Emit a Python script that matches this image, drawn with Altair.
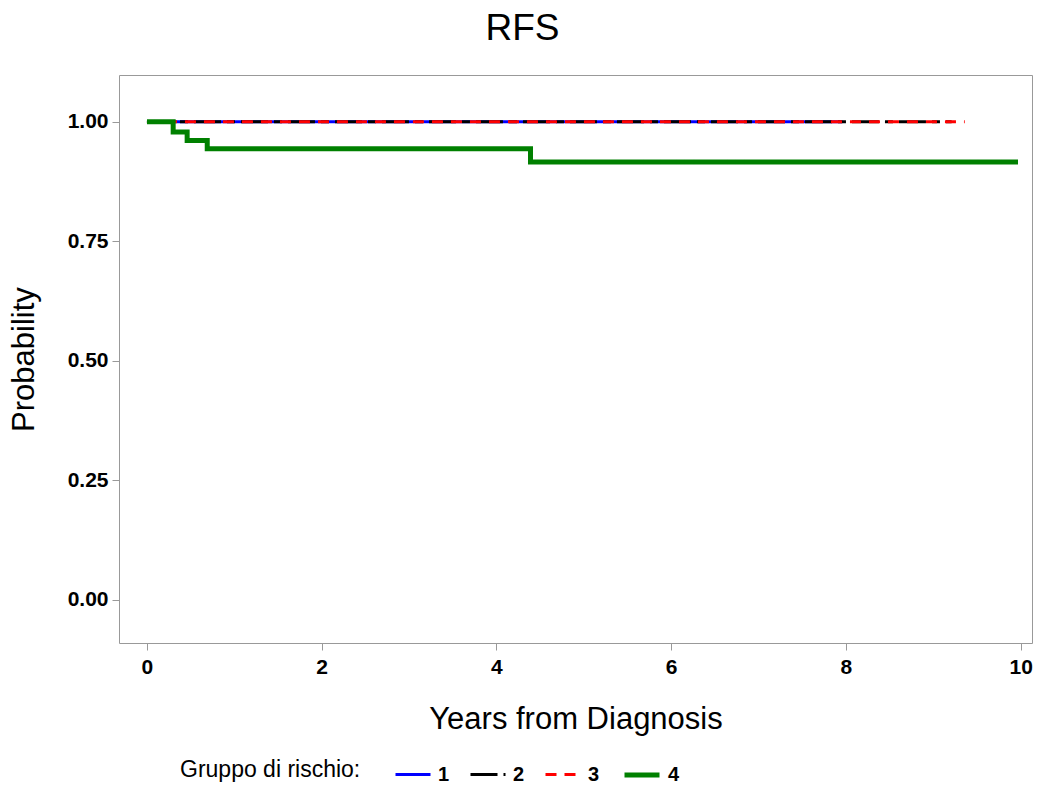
import altair as alt
import pandas as pd

# Kaplan-Meier step curves
g1_time = [0.0, 7.96]
g1_surv = [1.0, 1.0]
g2_time = [0.0, 9.21]
g2_surv = [1.0, 1.0]
g3_time = [0.0, 9.36]
g3_surv = [1.0, 1.0]
g4_time = [0.0, 0.30, 0.46, 0.69, 4.39, 9.97]
g4_surv = [1.0, 0.979, 0.961, 0.944, 0.916, 0.916]

groups = ["1", "2", "3", "4"]
colors = ["#0000FF", "#000000", "#FF0000", "#008000"]
dashes = [[1, 0], [27, 6, 8, 6], [11, 8], [1, 0]]
widths = [3, 3, 3, 5]

x_ticks = [0, 2, 4, 6, 8, 10]
y_ticks = [0.0, 0.25, 0.5, 0.75, 1.0]

rows = []
for g, ts, ss in zip(groups, [g1_time, g2_time, g3_time, g4_time],
                     [g1_surv, g2_surv, g3_surv, g4_surv]):
    for i, (t, s) in enumerate(zip(ts, ss)):
        rows.append({"group": g, "time": t, "surv": s, "ord": i})
df = pd.DataFrame(rows)

FONT = "Liberation Sans"

chart = alt.Chart(df).mark_line(interpolate="step-after", strokeCap="butt").encode(
    x=alt.X("time:Q",
            scale=alt.Scale(domain=[-0.32, 10.13], nice=False, zero=False),
            axis=alt.Axis(values=x_ticks, title="Years from Diagnosis", format="d",
                          grid=False, domain=False, tickColor="#999999", tickSize=7,
                          labelFontSize=21, labelFontWeight="bold", labelColor="#000000",
                          labelPadding=6, labelFont=FONT,
                          titleFont=FONT, titleFontSize=31, titleFontWeight="normal",
                          titleColor="#000000", titleBaseline="alphabetic", titleY=85)),
    y=alt.Y("surv:Q",
            scale=alt.Scale(domain=[-0.09, 1.098], nice=False, zero=False),
            axis=alt.Axis(values=y_ticks, title="Probability", format=".2f",
                          grid=False, domain=False, tickColor="#999999", tickSize=7,
                          labelFontSize=21, labelFontWeight="bold", labelColor="#000000",
                          labelPadding=4, labelFont=FONT,
                          titleFont=FONT, titleFontSize=31, titleFontWeight="normal",
                          titleColor="#000000", titleBaseline="alphabetic", titleX=-86)),
    color=alt.Color("group:N", scale=alt.Scale(domain=groups, range=colors),
                    title="Gruppo di rischio:"),
    strokeDash=alt.StrokeDash("group:N", scale=alt.Scale(domain=groups, range=dashes),
                              title="Gruppo di rischio:"),
    strokeWidth=alt.StrokeWidth("group:N",
                                scale=alt.Scale(type="ordinal", domain=groups, range=widths),
                                title="Gruppo di rischio:"),
    order="ord:Q",
).properties(
    width=913,
    height=568,
    autosize=alt.AutoSizeParams(type="none"),
    padding={"left": 111, "top": 67, "right": 2, "bottom": 140},
    title=alt.TitleParams("RFS", fontSize=37, font=FONT, fontWeight="normal",
                          color="#000000", anchor="middle", dx=-53, offset=27),
).configure_view(
    stroke="#999999", strokeWidth=1
).configure_legend(
    orient="none", legendX=61, legendY=680, direction="horizontal",
    titleOrient="left", titleFont=FONT, titleFontSize=23, titleFontWeight="normal",
    titleColor="#000000", titlePadding=33, titleLimit=400,
    labelFont=FONT, labelFontSize=20, labelFontWeight="bold", labelColor="#000000",
    labelOffset=6, columnPadding=14, symbolType="stroke", symbolSize=1225,
    symbolStrokeWidth=3,
)

chart.save("out.html", embed_options={"renderer": "svg", "actions": False})
